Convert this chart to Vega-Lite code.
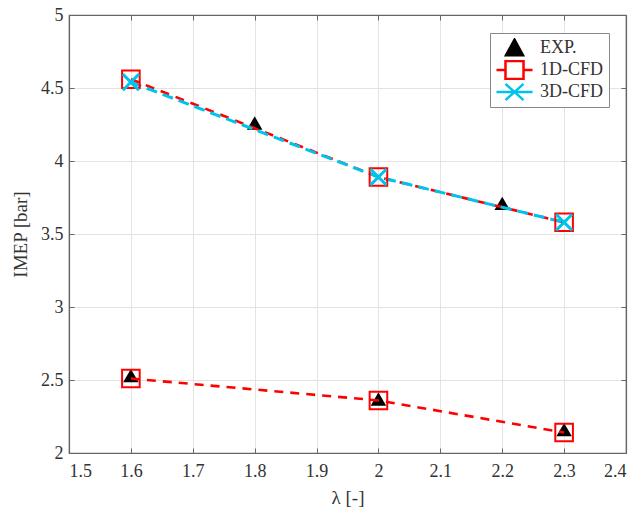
{
  "$schema": "https://vega.github.io/schema/vega-lite/v6.json",
  "width": 557,
  "height": 438,
  "autosize": {"type": "none"},
  "padding": {"left": 69, "top": 15, "right": 13, "bottom": 65},
  "background": "white",
  "config": {
    "view": {"stroke": "#666", "strokeWidth": 1.2},
    "font": "Liberation Serif",
    "axis": {
      "labelFont": "Liberation Serif",
      "titleFont": "Liberation Serif",
      "labelFontSize": 17,
      "titleFontSize": 19,
      "titleFontWeight": "normal",
      "labelColor": "#333",
      "titleColor": "#333",
      "domainColor": "#666",
      "domainWidth": 1.2,
      "tickColor": "#666",
      "gridColor": "#e3e3e3",
      "gridWidth": 1
    }
  },
  "datasets": {
    "pts": [
      {"series": "EXP.", "group": "upper", "lambda": 1.8, "imep": 4.26},
      {"series": "EXP.", "group": "upper", "lambda": 2.2, "imep": 3.71},
      {"series": "EXP.", "group": "lower", "lambda": 1.6, "imep": 2.53},
      {"series": "EXP.", "group": "lower", "lambda": 2.0, "imep": 2.37},
      {"series": "EXP.", "group": "lower", "lambda": 2.3, "imep": 2.16},
      {"series": "1D-CFD", "group": "upper", "lambda": 1.6, "imep": 4.56},
      {"series": "1D-CFD", "group": "upper", "lambda": 2.0, "imep": 3.89},
      {"series": "1D-CFD", "group": "upper", "lambda": 2.3, "imep": 3.58},
      {"series": "1D-CFD", "group": "lower", "lambda": 1.6, "imep": 2.51},
      {"series": "1D-CFD", "group": "lower", "lambda": 2.0, "imep": 2.36},
      {"series": "1D-CFD", "group": "lower", "lambda": 2.3, "imep": 2.14},
      {"series": "3D-CFD", "group": "upper", "lambda": 1.6, "imep": 4.54},
      {"series": "3D-CFD", "group": "upper", "lambda": 2.0, "imep": 3.89},
      {"series": "3D-CFD", "group": "upper", "lambda": 2.3, "imep": 3.58}
    ]
  },
  "data": {"name": "pts"},
  "resolve": {"axis": {"x": "independent", "y": "independent"}},
  "layer": [
    {
      "transform": [{"filter": "datum.series === 'EXP.'"}],
      "mark": {"type": "point", "shape": "triangle-up", "filled": true, "color": "black", "opacity": 1, "size": 240},
      "encoding": {
        "x": {"field": "lambda", "type": "quantitative",
          "scale": {"domain": [1.5, 2.4], "nice": false, "zero": false},
          "axis": {"orient": "bottom", "title": "λ  [-]", "values": [1.5,1.6,1.7,1.8,1.9,2.0,2.1,2.2,2.3,2.4], "format": "~g", "tickSize": -5, "labelPadding": 14, "titlePadding": 8, "grid": true,
            "labelFont": "Liberation Serif", "labelFontSize": 18, "titleFont": "Liberation Serif", "titleFontSize": 19}},
        "y": {"field": "imep", "type": "quantitative",
          "scale": {"domain": [2, 5], "nice": false, "zero": false},
          "axis": {"orient": "left", "title": "IMEP  [bar]", "values": [2,2.5,3,3.5,4,4.5,5], "format": "~g", "tickSize": -5, "labelPadding": 11, "titlePadding": 10, "grid": true,
            "labelFont": "Liberation Serif", "labelFontSize": 18, "titleFont": "Liberation Serif", "titleFontSize": 19}}
      }
    },
    {
      "transform": [{"filter": "datum.series === '1D-CFD'"}],
      "mark": {"type": "line", "color": "#ff0000", "strokeWidth": 2.6, "strokeDash": [9, 7]},
      "encoding": {
        "x": {"field": "lambda", "type": "quantitative",
          "axis": {"orient": "top", "title": null, "labels": false, "grid": false, "values": [1.5,1.6,1.7,1.8,1.9,2.0,2.1,2.2,2.3,2.4], "tickSize": -5}},
        "y": {"field": "imep", "type": "quantitative",
          "axis": {"orient": "right", "title": null, "labels": false, "grid": false, "values": [2,2.5,3,3.5,4,4.5,5], "tickSize": -5}},
        "detail": {"field": "group"}
      }
    },
    {
      "transform": [{"filter": "datum.series === '3D-CFD'"}],
      "mark": {"type": "line", "color": "#00c3eb", "strokeWidth": 3, "strokeDash": [11, 6]},
      "encoding": {
        "x": {"field": "lambda", "type": "quantitative", "axis": null},
        "y": {"field": "imep", "type": "quantitative", "axis": null}
      }
    },
    {
      "transform": [{"filter": "datum.series === '1D-CFD'"}],
      "mark": {"type": "point", "shape": "square", "filled": false, "color": "#ff0000", "strokeWidth": 2, "opacity": 1, "size": 310},
      "encoding": {
        "x": {"field": "lambda", "type": "quantitative", "axis": null},
        "y": {"field": "imep", "type": "quantitative", "axis": null}
      }
    },
    {
      "transform": [{"filter": "datum.series === '3D-CFD'"}],
      "mark": {"type": "point", "shape": "M-1,-1L1,1M-1,1L1,-1", "filled": false, "color": "#00c3eb", "strokeWidth": 3, "opacity": 1, "size": 260},
      "encoding": {
        "x": {"field": "lambda", "type": "quantitative", "axis": null},
        "y": {"field": "imep", "type": "quantitative", "axis": null}
      }
    },
    {
      "mark": {"type": "point", "opacity": 0, "filled": false},
      "encoding": {
        "x": {"field": "lambda", "type": "quantitative", "axis": null},
        "y": {"field": "imep", "type": "quantitative", "axis": null},
        "shape": {"field": "series", "type": "nominal",
          "scale": {"domain": ["EXP.", "1D-CFD", "3D-CFD"], "range": ["M0,-0.46L0.47,0.4L-0.47,0.4Z", "M-1,0H-0.5M0.5,0H1M-0.5,-0.5H0.5V0.5H-0.5Z", "M-1,0H1M-0.5,-0.45L0.5,0.45M-0.5,0.45L0.5,-0.45"]},
          "legend": {"title": null, "orient": "none", "legendX": 421, "legendY": 18,
            "symbolSize": 1300, "symbolOpacity": 1, "symbolStrokeWidth": 2.5, "clipHeight": 20,
            "labelFont": "Liberation Serif", "labelFontSize": 18, "labelColor": "#333", "labelOffset": 6,
            "strokeColor": "#888", "fillColor": "white", "padding": 5, "rowPadding": 2, "cornerRadius": 0}},
        "stroke": {"field": "series", "type": "nominal",
          "scale": {"domain": ["EXP.", "1D-CFD", "3D-CFD"], "range": ["black", "#ff0000", "#00c3eb"]}},
        "fill": {"field": "series", "type": "nominal",
          "scale": {"domain": ["EXP.", "1D-CFD", "3D-CFD"], "range": ["black", "transparent", "transparent"]}}
      }
    }
  ]
}
